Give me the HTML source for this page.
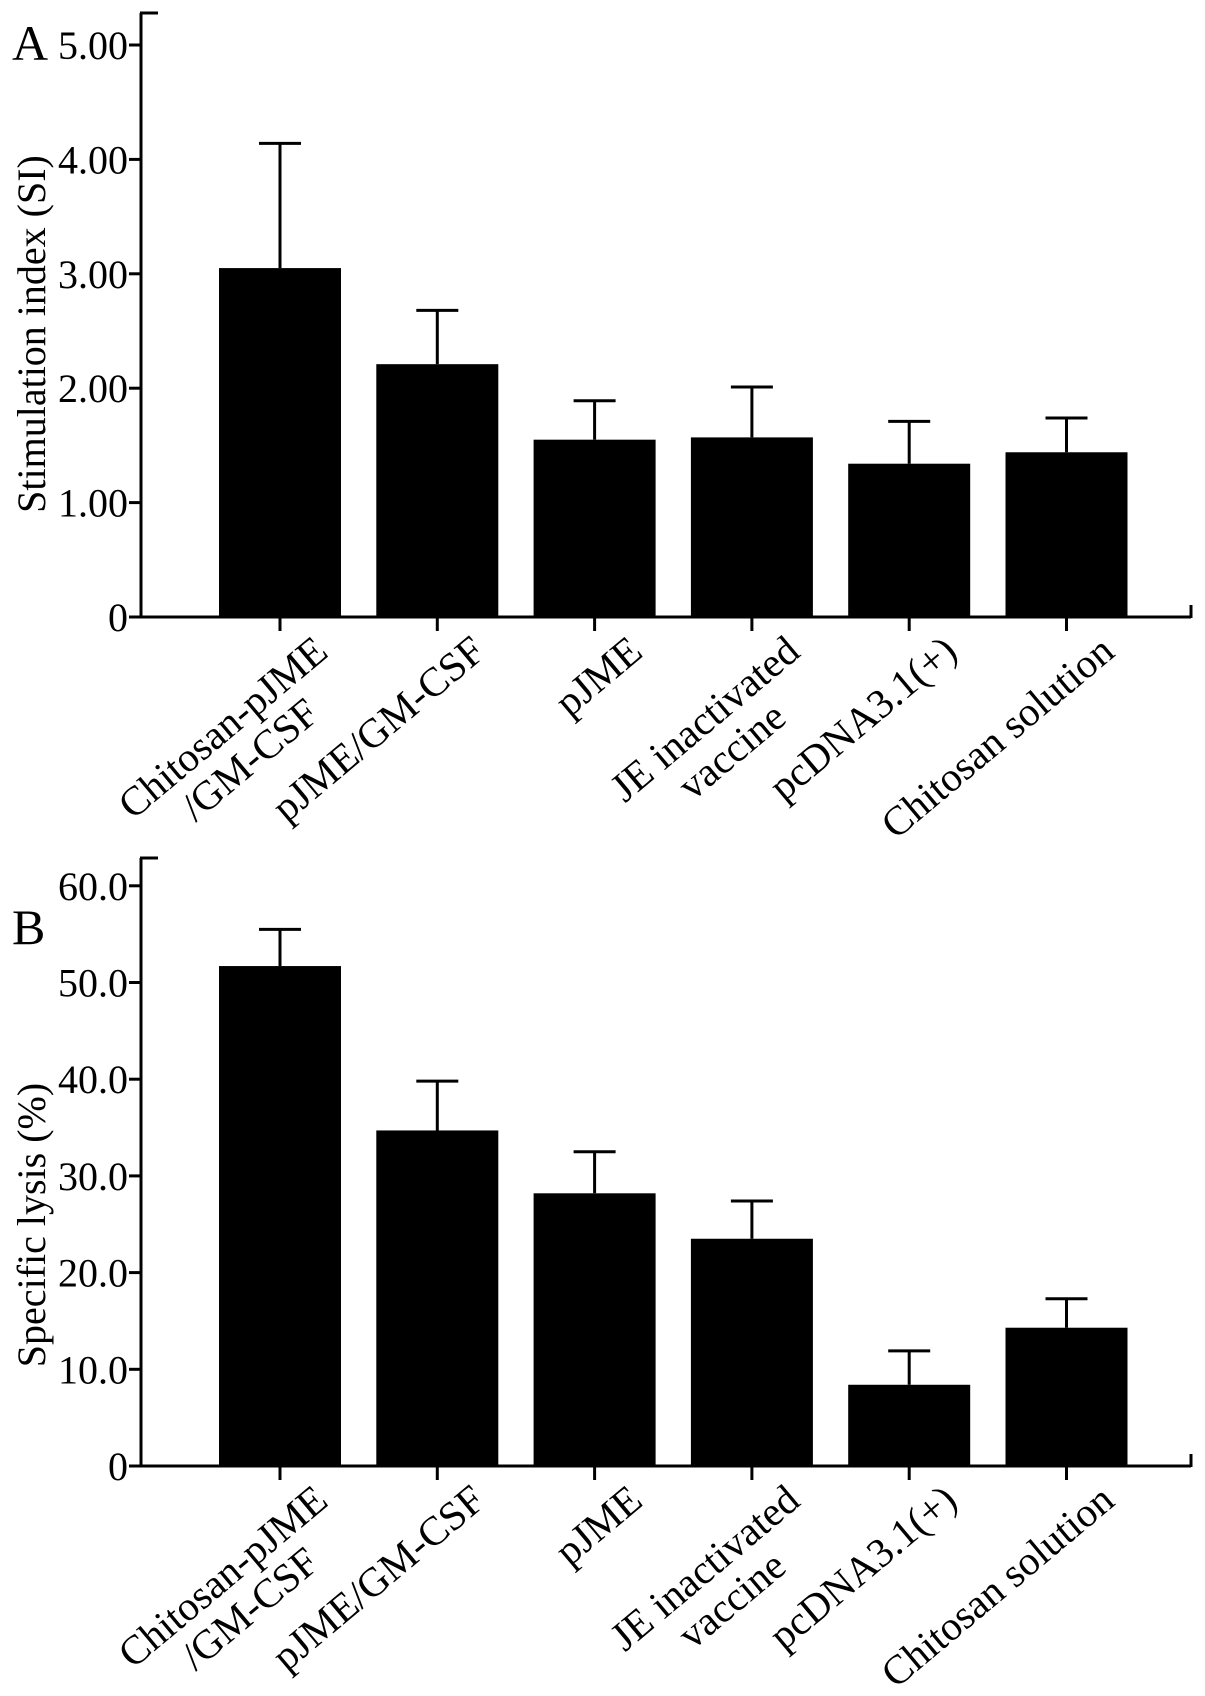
<!DOCTYPE html>
<html><head><meta charset="utf-8"><style>
body{margin:0;background:#fff;}
svg{display:block;font-family:"Liberation Serif",serif;}
</style></head><body>
<svg id="c" width="1205" height="1696" viewBox="0 0 1205 1696" xmlns="http://www.w3.org/2000/svg"></svg>
<script>
const categories = [["Chitosan-pJME","/GM-CSF"],["pJME/GM-CSF"],["pJME"],["JE inactivated","vaccine"],["pcDNA3.1(+)"],["Chitosan solution"]];
const valuesA = [3.05, 2.21, 1.55, 1.57, 1.34, 1.44];
const errTopA = [4.14, 2.68, 1.89, 2.01, 1.71, 1.74];
const ticksA = ["0","1.00","2.00","3.00","4.00","5.00"];
const tickValsA = [0,1,2,3,4,5];
const valuesB = [51.7, 34.7, 28.2, 23.5, 8.4, 14.3];
const errTopB = [55.5, 39.8, 32.5, 27.4, 11.9, 17.3];
const ticksB = ["0","10.0","20.0","30.0","40.0","50.0","60.0"];
const tickValsB = [0,10,20,30,40,50,60];

const NS="http://www.w3.org/2000/svg";
const svg=document.getElementById('c');
function el(tag,attrs,parent){const e=document.createElementNS(NS,tag);for(const k in attrs)e.setAttribute(k,attrs[k]);(parent||svg).appendChild(e);return e;}

function panel(cfg){
  const g=el('g',{});
  
  
  const x0=141,x1=1191,y0=cfg.zeroY;
  const y=v=>y0-v*cfg.pxPer;
  const xc=i=>280+i*157.3;
  const bw=122;
  const ya=el('line',{x1:x0,y1:cfg.axisTop,x2:x0,y2:y0,stroke:'#000','stroke-width':3},g);
  
  el('line',{x1:x0-1,y1:cfg.axisTop,x2:x0+17,y2:cfg.axisTop,stroke:'#000','stroke-width':3},g);
  const xa=el('line',{x1:x0,y1:y0,x2:x1,y2:y0,stroke:'#000','stroke-width':3},g);
  
  el('line',{x1:x1,y1:y0+1,x2:x1,y2:y0-12,stroke:'#000','stroke-width':3},g);
  cfg.tickVals.forEach((v,i)=>{
    el('line',{x1:x0-12,y1:y(v),x2:x0,y2:y(v),stroke:'#000','stroke-width':3},g);
    const t=el('text',{x:128,y:y(v)+14,'text-anchor':'end','font-size':40},g);
    t.textContent=cfg.ticks[i];
    
  });
  cfg.values.forEach((v,i)=>{
    const cx=xc(i);
    const r=el('rect',{x:cx-bw/2,y:y(v),width:bw,height:y0-y(v),fill:'#000'},g);
    
    const eb=el('path',{d:`M${cx},${y(v)}V${y(cfg.err[i])}M${cx-21},${y(cfg.err[i])}H${cx+21}`,stroke:'#000','stroke-width':3,fill:'none'},g);
    
    el('line',{x1:cx,y1:y0,x2:cx,y2:y0+14,stroke:'#000','stroke-width':3},g);
    const lg=el('g',{transform:`translate(${cx+50},${y0+38}) rotate(-40)`},g);
    
    const lines=categories[i];
    const ts=lines.map((s,k)=>{const t=el('text',{x:0,y:k*42,'font-size':41,'text-anchor':'middle'},lg);t.textContent=s;return t;});
    const w=Math.max(...ts.map(t=>t.getComputedTextLength()));
    ts.forEach(t=>t.setAttribute('x',-w/2));
  });
  const tt=el('text',{transform:`translate(${cfg.titleX},${cfg.titleY}) rotate(-90)`,'text-anchor':'middle','font-size':40},g);
  tt.textContent=cfg.title;
  
  const pl=el('text',{x:12,y:cfg.letterY,'font-size':50},g);
  pl.textContent=cfg.letter;
  
}
panel({name:'panel-a',zeroY:617,pxPer:114.4,axisTop:13,tickVals:tickValsA,ticks:ticksA,values:valuesA,err:errTopA,title:'Stimulation index (SI)',titleX:45,titleY:334,letter:'A',letterY:60});
panel({name:'panel-b',zeroY:1466,pxPer:9.67,axisTop:858,tickVals:tickValsB,ticks:ticksB,values:valuesB,err:errTopB,title:'Specific lysis (%)',titleX:45,titleY:1225,letter:'B',letterY:944});
</script>
</body></html>
